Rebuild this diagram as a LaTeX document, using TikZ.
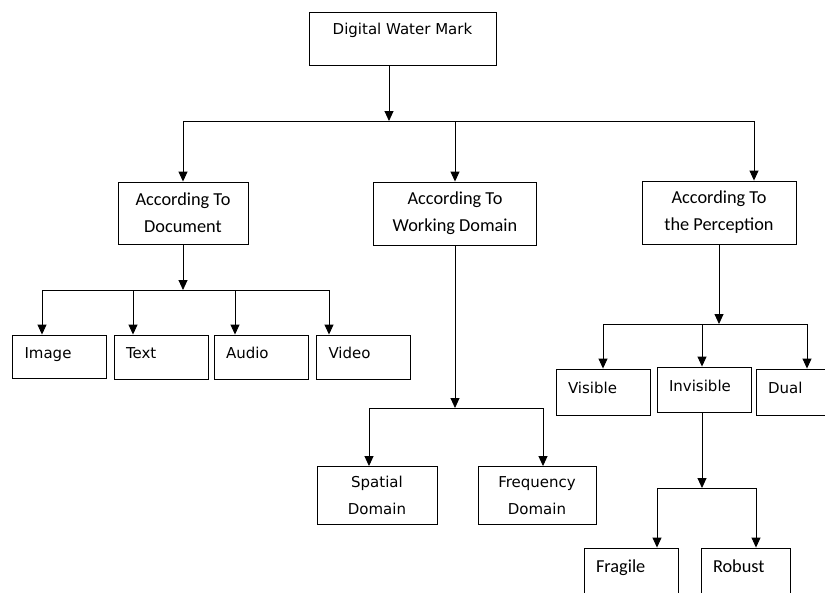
\documentclass[tikz,border=0pt]{standalone}
\usepackage{fontspec}
\setmainfont{DejaVu Sans}
\newfontfamily\calib{Carlito}
\usetikzlibrary{arrows.meta}
\begin{document}
\begin{tikzpicture}[x=1pt,y=-1pt]
        \tikzstyle{block} = [draw,line width=0.9pt,inner sep=0pt,font=\fontsize{15}{27}\selectfont]
        \tikzstyle{cat} = [block,align=center,font=\calib\fontsize{18.3}{27}\selectfont]
        \tikzstyle{leaf} = [block,align=left,inner xsep=12pt,text width=70pt,text height=11pt,text depth=8pt]
        \tikzstyle{arr} = [line width=0.9pt,-{Triangle[length=10pt,width=9pt]}]
        \tikzstyle{bus} = [line width=0.9pt]

        \clip (0,0) rectangle (825,592);
        \fill[white] (0,0) rectangle (825,592);

        % root and the three ways to sort
        \node[block,minimum width=187pt,text height=22.5pt,text depth=30.5pt] (dwm) at (402.5,38.5) {Digital Water Mark};
        \node[cat,minimum width=130pt,minimum height=62pt] (doc) at (183,213) {According To\\Document};
        \node[cat,minimum width=163pt,minimum height=63pt] (work) at (455,213.5) {According To\\Working Domain};
        \node[cat,minimum width=154pt,minimum height=63pt] (perc) at (719,212.5) {According To\\the Perception};

        % by document
        \node[leaf,minimum height=43pt] (img) at (59.5,356.5) {Image};
        \node[leaf,minimum height=44pt] (txt) at (161,357) {Text};
        \node[leaf,minimum height=44pt] (aud) at (261,357) {Audio};
        \node[leaf,minimum height=44pt] (vid) at (363.5,357) {Video};

        % by working domain
        \node[block,align=center,minimum width=120pt,minimum height=58pt] (spa) at (377,495.5) {Spatial\\Domain};
        \node[block,align=center,minimum width=118pt,minimum height=58pt] (fre) at (537,495.5) {Frequency\\Domain};

        % by perception
        \node[leaf,minimum height=46pt] (vis) at (603,392) {Visible};
        \node[leaf,minimum height=45pt] (inv) at (704,389.5) {Invisible};
        \node[leaf,minimum height=46pt] (dual) at (803,392) {Dual};
        \node[leaf,font=\calib\fontsize{18.3}{27}\selectfont,minimum height=46pt] (fra) at (631,571) {Fragile};
        \node[leaf,font=\calib\fontsize{18.3}{27}\selectfont,text width=65pt,minimum height=46pt] (rob) at (745.5,571) {Robust};


        \coordinate (t0) at (389,121);
        \coordinate (t1) at (183,121);
        \coordinate (t2) at (455,121);
        \coordinate (t3) at (754,121);
        \draw[arr] (t0 |- dwm.south) -- (t0);
        \draw[bus] (t1) -- (t3);
        \foreach \c/\n in {t1/doc,t2/work,t3/perc}
            \draw[arr] (\c) -- (\c |- \n.north);


        \coordinate (d1) at (42,290);
        \coordinate (d2) at (133,290);
        \coordinate (d3) at (235,290);
        \coordinate (d4) at (329,290);
        \draw[arr] (doc.south) -- (doc.south |- d1);
        \draw[bus] (d1) -- (d4);
        \foreach \c/\n in {d1/img,d2/txt,d3/aud,d4/vid}
            \draw[arr] (\c) -- (\c |- \n.north);


        \coordinate (w1) at (369,408);
        \coordinate (w2) at (543,408);
        \draw[arr] (work.south) -- (work.south |- w1);
        \draw[bus] (w1) -- (w2);
        \draw[arr] (w1) -- (w1 |- spa.north);
        \draw[arr] (w2) -- (w2 |- fre.north);


        \coordinate (p1) at (603,324);
        \coordinate (p2) at (702,324);
        \coordinate (p3) at (807,324);
        \draw[arr] (perc.south) -- (perc.south |- p1);
        \draw[bus] (p1) -- (p3);
        \foreach \c/\n in {p1/vis,p2/inv,p3/dual}
            \draw[arr] (\c) -- (\c |- \n.north);


        \coordinate (i0) at (702,488);
        \coordinate (i1) at (657,488);
        \coordinate (i2) at (756,488);
        \draw[arr] (i0 |- inv.south) -- (i0);
        \draw[bus] (i1) -- (i2);
        \draw[arr] (i1) -- (i1 |- fra.north);
        \draw[arr] (i2) -- (i2 |- rob.north);

\end{tikzpicture}
\end{document}
